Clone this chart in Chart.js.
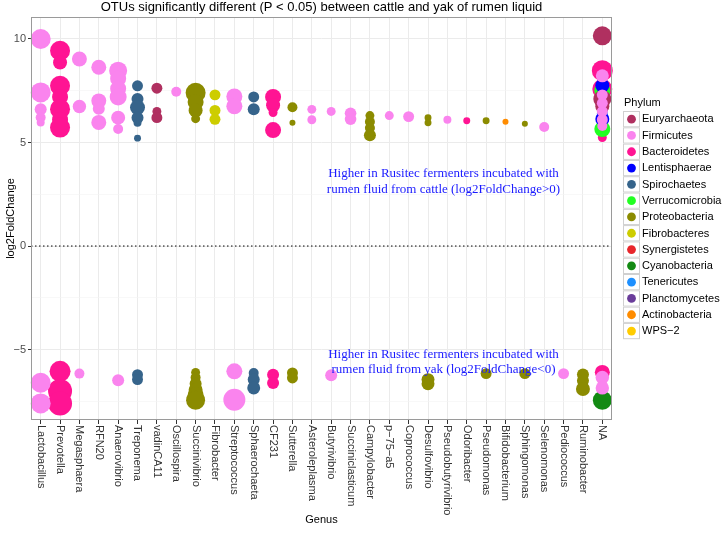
<!DOCTYPE html>
<html>
<head>
<meta charset="utf-8">
<script src="https://cdn.jsdelivr.net/npm/chart.js@4"></script>
<style>
  html, body { margin: 0; padding: 0; background: #fff; }
  #wrap { width: 725px; height: 533px; }
</style>
</head>
<body>
<div id="wrap"><canvas id="chart" width="725" height="533"></canvas></div>
<script>
const genera = [
  "Lactobacillus", "Prevotella", "Megasphaera", "RFN20", "Anaerovibrio", "Treponema",
  "vadinCA11", "Oscillospira", "Succinivibrio", "Fibrobacter", "Streptococcus",
  "Sphaerochaeta", "CF231", "Sutterella", "Asteroleplasma", "Butyrivibrio",
  "Succiniclasticum", "Campylobacter", "p-75-a5", "Coprococcus", "Desulfovibrio",
  "Pseudobutyrivibrio", "Odoribacter", "Pseudomonas", "Bifidobacterium",
  "Sphingomonas", "Selenomonas", "Pediococcus", "Ruminobacter", "NA"
];

const phyla = [
  "Euryarchaeota", "Firmicutes", "Bacteroidetes", "Lentisphaerae", "Spirochaetes",
  "Verrucomicrobia", "Proteobacteria", "Fibrobacteres", "Synergistetes",
  "Cyanobacteria", "Tenericutes", "Planctomycetes", "Actinobacteria", "WPS-2"
];

const phylumColors = [
  "#B03060", "#FA84EE", "#FF1493", "#0000FF", "#36648B",
  "#22FF22", "#8B8B00", "#CDCD00", "#E8262B",
  "#138A13", "#1E90FF", "#6A3D9A", "#FF8C00", "#FFCC00"
];

// phylum of each genus (NA holds OTUs from several phyla, see naPhylum)
const genusPhylum = [
  "Firmicutes", "Bacteroidetes", "Firmicutes", "Firmicutes", "Firmicutes", "Spirochaetes",
  "Euryarchaeota", "Firmicutes", "Proteobacteria", "Fibrobacteres", "Firmicutes",
  "Spirochaetes", "Bacteroidetes", "Proteobacteria", "Firmicutes", "Firmicutes",
  "Firmicutes", "Proteobacteria", "Firmicutes", "Firmicutes", "Proteobacteria",
  "Firmicutes", "Bacteroidetes", "Proteobacteria", "Actinobacteria",
  "Proteobacteria", "Firmicutes", "Firmicutes", "Proteobacteria", null
];

// log2FoldChange of each significant OTU, per genus
const log2FC = [
  [10.0, 7.42, 6.61, 6.21, 5.97, -6.6, -7.6],
  [9.43, 8.86, 7.74, 7.2, 6.61, 6.1, 5.72, -6.05, -7.0, -7.6],
  [9.03, 6.74, -6.16],
  [8.63, 7.01, 6.63, 5.97],
  [8.47, 8.08, 7.6, 7.2, 6.2, 5.65, -6.48],
  [7.74, 7.1, 6.69, 6.2, 5.95, 5.21, -6.21, -6.45],
  [7.62, 6.5, 6.2],
  [7.45],
  [7.4, 6.95, 6.55, 6.15, -6.1, -6.35, -6.65, -6.95, -7.2, -7.45],
  [7.3, 6.55, 6.12],
  [7.22, 6.75, -6.05, -7.42],
  [7.2, 6.6, -6.13, -6.45, -6.85],
  [7.2, 6.8, 6.45, 5.6, -6.21, -6.61],
  [6.7, 5.95, -6.13, -6.37],
  [6.6, 6.1],
  [6.5, -6.24],
  [6.41, 6.13],
  [6.3, 6.0, 5.7, 5.35],
  [6.3],
  [6.25],
  [6.2, 5.95, -6.45, -6.65],
  [6.1],
  [6.05],
  [6.05, -6.16],
  [6.0],
  [5.9, -6.16],
  [5.75],
  [-6.16],
  [-6.2, -6.5, -6.9],
  [10.15, 8.47, 7.75, 7.5, 7.58, 7.1, 6.75, 6.9, 6.4, 6.5, 6.14, 5.65, 5.24,
   8.22, 7.3, 6.9, 6.5, 6.1, 5.8, -6.1, -6.6, -6.35, -6.85, -7.45]
];

// mean abundance of each OTU (bubble size)
const abundance = [
  [100, 100, 36, 25, 16, 100, 100],
  [100, 49, 100, 64, 100, 64, 100, 110, 144, 144],
  [56, 45, 25],
  [56, 56, 36, 56],
  [81, 64, 64, 72, 49, 25, 36],
  [30, 36, 56, 36, 16, 12, 30, 30],
  [30, 20, 30],
  [25],
  [100, 64, 49, 20, 20, 25, 36, 49, 64, 90],
  [30, 30, 30],
  [64, 64, 64, 121],
  [30, 36, 25, 36, 42],
  [64, 49, 20, 64, 36, 36],
  [25, 9, 30, 30],
  [20, 20],
  [20, 36],
  [34, 34],
  [20, 25, 25, 36],
  [20],
  [30],
  [12, 12, 42, 42],
  [16],
  [12],
  [12, 30],
  [9],
  [9, 30],
  [25],
  [30],
  [36, 36, 49],
  [90, 110, 49, 64, 100, 81, 49, 25, 30, 25, 49, 64, 20,
   42, 30, 30, 30, 30, 25, 56, 16, 45, 45, 90]
];

const naPhylum = [
  "Euryarchaeota", "Bacteroidetes", "Lentisphaerae", "Verrucomicrobia", "Bacteroidetes",
  "Euryarchaeota", "Euryarchaeota", "Synergistetes", "Tenericutes", "Planctomycetes",
  "Lentisphaerae", "Verrucomicrobia", "Bacteroidetes",
  "Firmicutes", "Firmicutes", "Firmicutes", "Firmicutes", "Firmicutes", "Firmicutes",
  "Bacteroidetes", "WPS-2", "Firmicutes", "Firmicutes", "Cyanobacteria"
];

const yTicks = [-5, 0, 5, 10];
const notes = [
  { at: 20.8, y: 3.1, lines: ["Higher in Rusitec fermenters incubated with", "rumen fluid from cattle (log2FoldChange>0)"] },
  { at: 20.8, y: -5.6, lines: ["Higher in Rusitec fermenters incubated with", "rumen fluid from yak (log2FoldChange<0)"] }
];

const minus = (s) => String(s).replace(/-/g, "\u2212");
const radius = (a) => Math.sqrt(a);

// layers: Firmicutes on top
const drawOrder = ["Firmicutes", "Euryarchaeota", "Lentisphaerae", "Verrucomicrobia", "Bacteroidetes"];

const datasets = phyla.map((p, k) => ({
  label: p,
  data: [],
  backgroundColor: phylumColors[k],
  borderWidth: 0,
  hoverRadius: 0,
  order: drawOrder.includes(p) ? drawOrder.indexOf(p) : 10 + k
}));

genera.forEach((g, i) => {
  log2FC[i].forEach((v, j) => {
    const p = genusPhylum[i] || naPhylum[j];
    datasets[phyla.indexOf(p)].data.push({ x: g, y: v, r: radius(abundance[i][j]) });
  });
});

const SANS = "'Liberation Sans', Arial, sans-serif";

const extras = {
  id: "extras",
  afterDatasetsDraw(chart) {
    const ctx = chart.ctx;
    const a = chart.chartArea;
    const y0 = chart.scales.y.getPixelForValue(0);
    ctx.save();
    ctx.strokeStyle = "#000";
    ctx.lineWidth = 1;
    ctx.setLineDash([1.5, 2.5]);
    ctx.beginPath();
    ctx.moveTo(a.left, y0);
    ctx.lineTo(a.right, y0);
    ctx.stroke();
    ctx.restore();
  },
  afterDraw(chart) {
    const ctx = chart.ctx;
    const a = chart.chartArea;
    const xs = chart.scales.x;
    const ys = chart.scales.y;
    ctx.save();

    // panel border
    ctx.strokeStyle = "#9a9a9a";
    ctx.lineWidth = 1;
    ctx.strokeRect(a.left + 0.5, a.top + 0.5, a.right - a.left - 1, a.bottom - a.top - 1);

    // title
    ctx.fillStyle = "#000";
    ctx.font = "13px " + SANS;
    ctx.textAlign = "center";
    ctx.textBaseline = "middle";
    ctx.fillText("OTUs significantly different (P < 0.05) between cattle and yak of rumen liquid",
      (a.left + a.right) / 2, 7);

    // genus labels, turned to read downwards
    ctx.fillStyle = "#333";
    ctx.font = "11px " + SANS;
    ctx.textAlign = "left";
    ctx.textBaseline = "middle";
    genera.forEach((g, i) => {
      ctx.save();
      ctx.translate(xs.getPixelForTick(i), a.bottom + 5);
      ctx.rotate(Math.PI / 2);
      ctx.fillText(minus(g), 0, 0);
      ctx.restore();
    });

    // annotations
    ctx.fillStyle = "#1a1aff";
    ctx.font = "13px 'Liberation Serif', 'Times New Roman', serif";
    ctx.textAlign = "center";
    notes.forEach((n) => {
      const cx = xs.getPixelForValue(n.at);
      const cy = ys.getPixelForValue(n.y);
      ctx.fillText(n.lines[0], cx, cy - 7.8);
      ctx.fillText(n.lines[1], cx, cy + 7.8);
    });

    // legend
    const lx = a.right + 11;
    ctx.textAlign = "left";
    ctx.fillStyle = "#000";
    ctx.font = "11px " + SANS;
    ctx.fillText("Phylum", lx + 1, 103);
    phyla.forEach((p, k) => {
      const top = 111 + k * 16.3;
      ctx.fillStyle = "#fff";
      ctx.fillRect(lx, top, 17, 16.3);
      ctx.strokeStyle = "#d0d0d0";
      ctx.lineWidth = 1;
      ctx.strokeRect(lx + 0.5, top + 0.5, 16, 15.3);
      ctx.fillStyle = phylumColors[k];
      ctx.beginPath();
      ctx.arc(lx + 8.5, top + 8.15, 4.4, 0, Math.PI * 2);
      ctx.fill();
      ctx.fillStyle = "#000";
      ctx.fillText(minus(p), lx + 19, top + 8.4);
    });
    ctx.restore();
  }
};

new Chart(document.getElementById("chart"), {
  type: "bubble",
  data: { labels: genera, datasets: datasets },
  options: {
    responsive: false,
    animation: false,
    events: [],
    layout: { padding: { left: 0, right: 113, top: 17, bottom: 0 } },
    plugins: { legend: { display: false }, tooltip: { enabled: false } },
    scales: {
      x: {
        type: "category",
        labels: genera,
        offset: true,
        grid: { color: "#ebebeb", tickColor: "#333", tickLength: 4, offset: false },
        border: { display: false },
        ticks: { display: false },
        title: { display: true, text: "Genus", color: "#000", font: { family: SANS, size: 11 }, padding: { top: 0, bottom: 6 } },
        afterFit: (s) => { s.height = 113; }
      },
      y: {
        min: -8.4,
        max: 11.06,
        border: { display: false },
        grid: {
          color: (c) => (c.tick && yTicks.includes(c.tick.value) ? "#ebebeb" : "#f4f4f4"),
          lineWidth: (c) => (c.tick && yTicks.includes(c.tick.value) ? 1 : 0.6),
          tickColor: (c) => (c.tick && yTicks.includes(c.tick.value) ? "#333" : "rgba(0,0,0,0)"),
          tickLength: 3
        },
        ticks: {
          stepSize: 2.5,
          includeBounds: false,
          padding: 2,
          color: "#4d4d4d",
          font: { family: SANS, size: 11 },
          callback: (v) => (yTicks.includes(v) ? minus(v) : "")
        },
        title: { display: true, text: "log2FoldChange", color: "#000", font: { family: SANS, size: 11 }, padding: { top: 4, bottom: 2 } },
        afterFit: (s) => { s.width = 31; }
      }
    }
  },
  plugins: [extras]
});
</script>
</body>
</html>
